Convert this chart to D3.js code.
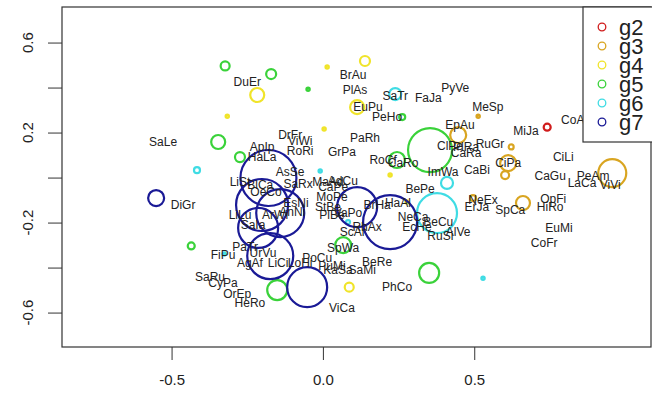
<!DOCTYPE html>
<html>
<head>
<meta charset="utf-8">
<script src="https://cdn.jsdelivr.net/npm/d3@7"></script>
<style>
  html, body { margin: 0; padding: 0; background: #fff; }
  svg { display: block; }
</style>
</head>
<body>
<div id="chart"></div>
<script>
/* ── Data ─────────────────────────────────────────────────────── */

const groups = ['g2', 'g3', 'g4', 'g5', 'g6', 'g7'];
const groupColors = ['#d01c1c', '#d9a521', '#f0e42a', '#3ad23a', '#3fdce4', '#1a1a96'];

const xTicks = [-0.5, 0.0, 0.5];
const yTicks = [0.6, 0.4, 0.2, 0.0, -0.2, -0.4, -0.6];
const yTickLabels = ['0.6', '', '0.2', '', '-0.2', '', '-0.6'];

// species labels
const labelNames = [
  'SaLe', 'DuEr', 'BrAu', 'PlAs', 'SaTr', 'FaJa', 'PyVe', 'EuPu', 'PeHo', 'MeSp',
  'EpAu', 'CoAl', 'MiJa', 'RuGr', 'CiLi', 'CiPa', 'CaBi', 'CaGu', 'PeAm', 'LaCa',
  'ViVi', 'ClPe', 'PlRa', 'CaRa', 'DrFr', 'ViWi', 'ApIp', 'HaLa', 'RoRi', 'GrPa',
  'PaRh', 'RoCf', 'CaRo', 'ImWa', 'BePe', 'AsSe', 'SaRx', 'MaAd', 'AdCu', 'CaPe',
  'MoPe', 'StBe', 'PlBe', 'VaPo', 'BrHa', 'HaAl', 'NeCa', 'EcHe', 'BeCu', 'RuSi',
  'AlVe', 'ScAr', 'RhAx', 'LiSt', 'BlCa', 'OeCo', 'AnNi', 'ArWi', 'EsNi', 'LiLu',
  'SaIa', 'PaTr', 'UrVu', 'AgAf', 'LiCi', 'FiPu', 'SaRu', 'CyPa', 'OrEp', 'HeRo',
  'PoCu', 'LoHi', 'PuMi', 'KaSa', 'SaMi', 'SpWa', 'BeRe', 'PhCo', 'ViCa', 'DiGr',
  'NeEx', 'ErJa', 'SpCa', 'OpFi', 'HiRo', 'EuMi', 'CoFr'
];
const labelX = [
  -0.528, -0.250, 0.100, 0.106, 0.239, 0.348, 0.437, 0.149, 0.212, 0.545,
  0.453, 0.830, 0.671, 0.552, 0.794, 0.612, 0.509, 0.751, 0.893, 0.856,
  0.949, 0.420, 0.473, 0.473, -0.108, -0.075, -0.201, -0.201, -0.075, 0.063,
  0.139, 0.199, 0.265, 0.397, 0.321, -0.108, -0.082, 0.017, 0.066, 0.034,
  0.030, 0.017, 0.030, 0.083, 0.179, 0.248, 0.298, 0.311, 0.381, 0.388,
  0.447, 0.099, 0.146, -0.274, -0.207, -0.188, -0.101, -0.158, -0.089, -0.274,
  -0.231, -0.257, -0.198, -0.241, -0.148, -0.330, -0.373, -0.330, -0.283, -0.241,
  -0.019, -0.075, 0.030, 0.050, 0.130, 0.067, 0.179, 0.245, 0.063, -0.462,
  0.529, 0.509, 0.619, 0.761, 0.751, 0.780, 0.731
];
const labelY = [
  0.158, 0.424, 0.456, 0.389, 0.362, 0.353, 0.398, 0.313, 0.269, 0.313,
  0.233, 0.256, 0.207, 0.149, 0.091, 0.064, 0.033, 0.007, 0.007, -0.024,
  -0.033, 0.140, 0.136, 0.109, 0.189, 0.162, 0.136, 0.091, 0.118, 0.113,
  0.176, 0.078, 0.064, 0.024, -0.051, 0.024, -0.029, -0.020, -0.016, -0.042,
  -0.087, -0.131, -0.167, -0.158, -0.122, -0.113, -0.176, -0.220, -0.198, -0.260,
  -0.242, -0.242, -0.220, -0.020, -0.033, -0.064, -0.153, -0.167, -0.113, -0.167,
  -0.211, -0.309, -0.336, -0.380, -0.380, -0.344, -0.442, -0.469, -0.518, -0.558,
  -0.358, -0.380, -0.393, -0.411, -0.411, -0.313, -0.376, -0.487, -0.580, -0.122,
  -0.100, -0.131, -0.144, -0.096, -0.131, -0.224, -0.291
];

// site symbols: position, size (symbol radius units), group index
const pointX = [
  -0.323, -0.171, -0.346, -0.274, -0.049, 0.262, 0.354, 0.245, 0.067, 0.351, -0.151, -0.435,
  -0.416, 0.239, 0.410, 0.377, -0.009, 0.529, 0.083, -0.326,
  -0.217, -0.316, 0.014, 0.139, 0.113, 0.004, 0.087, 0.222, 0.278,
  0.447, 0.513, 0.622, 0.612, 0.602, 0.956, 0.661, 0.496,
  0.741,
  -0.551, -0.180, -0.201, -0.141, -0.214, -0.174, -0.052, 0.113, 0.222
];
const pointY = [
  0.496, 0.460, 0.158, 0.091, 0.393, 0.269, 0.122, 0.078, -0.300, -0.424, -0.500, -0.304,
  0.033, 0.371, -0.024, -0.158, 0.029, -0.447, -0.198, -0.340,
  0.367, 0.273, 0.491, 0.518, 0.313, 0.216, -0.487, 0.011, -0.109,
  0.189, 0.273, 0.136, 0.064, 0.011, 0.020, -0.113, -0.091,
  0.224,
  -0.091, -0.002, -0.122, -0.158, -0.224, -0.349, -0.487, -0.131, -0.198
];
const pointSize = [
  4.5, 5, 7, 5, 1.5, 3, 22, 8, 8, 10, 10, 3.5,
  3, 6, 6, 20, 1.5, 1.5, 2, 1.5,
  7, 1.5, 1.5, 5, 7, 1.5, 4.5, 1.5, 1.5,
  8, 1.5, 2.5, 8, 4, 14, 7, 3,
  3.5,
  8, 28, 26, 24, 20, 23, 20, 20, 27
];
const pointGroup = [
  3, 3, 3, 3, 3, 3, 3, 3, 3, 3, 3, 3,
  4, 4, 4, 4, 4, 4, 4, 4,
  2, 2, 2, 2, 2, 2, 2, 2, 2,
  1, 1, 1, 1, 1, 1, 1, 1,
  0,
  5, 5, 5, 5, 5, 5, 5, 5, 5
];

/* ── Layout ───────────────────────────────────────────────────── */

const width = 652, height = 395;
const box = { left: 62, right: 651, top: 7, bottom: 347 };
const font = 'Liberation Sans, Arial, Helvetica, sans-serif';

const x = d3.scaleLinear().domain([-0.862, 1.084]).range([box.left, box.right]);
const y = d3.scaleLinear().domain([-0.753, 0.758]).range([box.bottom, box.top]);
const r = d3.scaleLinear().domain([0, 1]).range([0, 1]);

const svg = d3.select('#chart').append('svg')
  .attr('width', width)
  .attr('height', height);

svg.append('rect')
  .attr('width', width).attr('height', height)
  .attr('fill', '#fff');

/* ── Symbols ──────────────────────────────────────────────────── */

const points = pointX.map((px, i) => ({ x: px, y: pointY[i], s: pointSize[i], g: pointGroup[i] }));

svg.append('g').selectAll('circle')
  .data(points)
  .join('circle')
  .attr('cx', d => x(d.x))
  .attr('cy', d => y(d.y))
  .attr('r', d => r(d.s))
  .attr('fill', 'none')
  .attr('stroke', d => groupColors[d.g])
  .attr('stroke-width', d => d.s < 2 ? 2.5 : 2.2);

/* ── Labels ───────────────────────────────────────────────────── */

const labels = labelNames.map((n, i) => ({ n, x: labelX[i], y: labelY[i] }));

svg.append('g').selectAll('text')
  .data(labels)
  .join('text')
  .attr('x', d => x(d.x))
  .attr('y', d => y(d.y))
  .attr('dy', '0.35em')
  .attr('text-anchor', 'middle')
  .attr('font-family', font)
  .attr('font-size', 12)
  .attr('fill', '#222')
  .text(d => d.n);

/* ── Axes ─────────────────────────────────────────────────────── */

svg.append('rect')
  .attr('x', box.left).attr('y', box.top)
  .attr('width', box.right - box.left)
  .attr('height', box.bottom - box.top)
  .attr('fill', 'none')
  .attr('stroke', '#333')
  .attr('stroke-width', 1.2);

const xAxis = svg.append('g')
  .attr('transform', `translate(0,${box.bottom})`)
  .call(d3.axisBottom(x).tickValues(xTicks).tickSize(13).tickPadding(14)
    .tickFormat(d3.format('.1f')));
xAxis.select('.domain').remove();
xAxis.selectAll('line').attr('stroke', '#333');
xAxis.selectAll('text')
  .attr('font-family', font).attr('font-size', 15).attr('fill', '#222')
  .text(d => d3.format('.1f')(d).replace('−', '-'));

const yAxis = svg.append('g')
  .attr('transform', `translate(${box.left},0)`)
  .call(d3.axisLeft(y).tickValues(yTicks).tickSize(14).tickFormat(''));
yAxis.select('.domain').remove();
yAxis.selectAll('line').attr('stroke', '#333');

svg.append('g').selectAll('text')
  .data(yTicks.map((v, i) => ({ v, t: yTickLabels[i] })).filter(d => d.t))
  .join('text')
  .attr('transform', d => `translate(28,${y(d.v)}) rotate(-90)`)
  .attr('dy', '0.35em')
  .attr('text-anchor', 'middle')
  .attr('font-family', font)
  .attr('font-size', 15)
  .attr('fill', '#222')
  .text(d => d.t);

/* ── Legend ───────────────────────────────────────────────────── */

const legend = svg.append('g');
legend.append('rect')
  .attr('x', 583).attr('y', box.top)
  .attr('width', 80).attr('height', 135)
  .attr('fill', '#fff')
  .attr('stroke', '#333')
  .attr('stroke-width', 1.2);

const ly = d3.scalePoint().domain(groups).range([27, 122]);

legend.selectAll('circle')
  .data(groups)
  .join('circle')
  .attr('cx', 602)
  .attr('cy', d => ly(d))
  .attr('r', 3.8)
  .attr('fill', 'none')
  .attr('stroke', (d, i) => groupColors[i])
  .attr('stroke-width', 1.3);

legend.selectAll('text')
  .data(groups)
  .join('text')
  .attr('x', 619)
  .attr('y', d => ly(d))
  .attr('dy', '0.35em')
  .attr('font-family', font)
  .attr('font-size', 22)
  .attr('fill', '#222')
  .text(d => d);
</script>
</body>
</html>
